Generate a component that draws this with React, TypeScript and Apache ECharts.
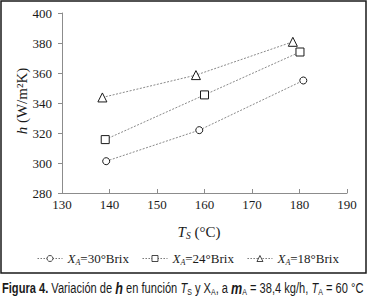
import React, { useEffect, useRef } from "react";
import * as echarts from "echarts";

const seriesNames = ["X_A=30°Brix", "X_A=24°Brix", "X_A=18°Brix"];
const legendValues = ["30°Brix", "24°Brix", "18°Brix"];
const brix30: [number, number][] = [[139.3, 301.2], [158.9, 321.9], [180.8, 355.0]];
const brix24: [number, number][] = [[139.1, 315.6], [160.0, 345.4], [180.1, 374.0]];
const brix18: [number, number][] = [[138.5, 343.7], [158.2, 358.6], [178.6, 380.8]];
const symbols = ["circle", "rect", "triangle"];
const xMin = 130, xMax = 190, xStep = 10;
const yMin = 280, yMax = 400, yStep = 20;

const SERIF = "Liberation Serif, Times New Roman, serif";
const SANS = "Liberation Sans, Arial, sans-serif";
const INK = "#1a1a1a";

const captionText =
  "{b|Figura 4.}{n| Variación de }{h|h}{n| en función }{i|T}{s|S}{n| y X}{s|A}{n|, a }{h|m}{s|A}{n| = 38,4 kg/h, }{i|T}{s|A}{n| = 60 °C}";

export default function App() {
  const ref = useRef<HTMLDivElement>(null);
  useEffect(() => {
    const chart = echarts.init(ref.current!, null, { renderer: "svg" });
    const datasets = [brix30, brix24, brix18];
    const option: any = {
      animation: false,
      backgroundColor: "#fff",
      textStyle: { fontFamily: SERIF },
      grid: { left: 62, top: 13, width: 285, height: 180 },
      xAxis: {
        type: "value", min: xMin, max: xMax, interval: xStep,
        axisLine: { lineStyle: { color: "#8c8c8c", width: 1 } },
        axisTick: { inside: true, length: 4, lineStyle: { color: "#8c8c8c" } },
        axisLabel: { color: INK, fontFamily: SERIF, fontSize: 13, margin: 5 },
        splitLine: { show: false },
      },
      yAxis: {
        type: "value", min: yMin, max: yMax, interval: yStep,
        axisLine: { show: true, lineStyle: { color: "#8c8c8c", width: 1 } },
        axisTick: { show: true, length: 4, lineStyle: { color: "#8c8c8c" } },
        axisLabel: { color: INK, fontFamily: SERIF, fontSize: 13, margin: 10 },
        splitLine: { show: false },
      },
      legend: {
        left: 32, top: 247, itemWidth: 25, itemHeight: 7.5, itemGap: 13,
        data: seriesNames,
        itemStyle: { color: "#ffffff", borderColor: INK, borderWidth: 0.8 },
        lineStyle: { color: "#777", width: 1, type: [1.5, 1.5] },
        formatter: (name: string) => {
          const i = seriesNames.indexOf(name);
          return `{i|X}{s|A}{n|=${legendValues[i]}}`;
        },
        textStyle: {
          color: INK, fontFamily: SERIF, fontSize: 13,
          rich: {
            i: { fontStyle: "italic", fontFamily: SERIF, fontSize: 13, color: INK },
            s: { fontStyle: "italic", fontFamily: SERIF, fontSize: 8, color: INK, verticalAlign: "bottom", padding: [7, 0, 0, 0] },
            n: { fontFamily: SERIF, fontSize: 13, color: INK },
          },
        },
      },
      series: datasets.map((d, i) => ({
        name: seriesNames[i],
        type: "line",
        data: d,
        symbol: symbols[i],
        symbolSize: i === 2 ? 9 : i === 1 ? 8 : 7,
        lineStyle: { color: "#8a8a8a", width: 1, type: [2, 1.5] },
        itemStyle: { color: "#ffffff", borderColor: INK, borderWidth: 1 },
        emphasis: { disabled: true },
      })),
      graphic: [
        {
          type: "rect", shape: { x: 1, y: 1, width: 365, height: 272 },
          style: { fill: "none", stroke: INK, lineWidth: 1.5 }, silent: true,
        },
        {
          type: "text", x: 22, y: 101, rotation: Math.PI / 2,
          style: {
            text: "{i|h}{n| (W/m²K)}", align: "center", verticalAlign: "middle",
            fill: INK,
            rich: {
              i: { fontStyle: "italic", fontFamily: SERIF, fontSize: 15, fill: INK },
              n: { fontFamily: SERIF, fontSize: 15, fill: INK },
            },
          },
        },
        {
          type: "text", x: 199, y: 232,
          style: {
            text: "{i|T}{s|S}{n| (°C)}", align: "center", verticalAlign: "middle",
            fill: INK,
            rich: {
              i: { fontStyle: "italic", fontFamily: SERIF, fontSize: 15, fill: INK },
              n: { fontFamily: SERIF, fontSize: 15, fill: INK },
              s: { fontStyle: "italic", fontFamily: SERIF, fontSize: 9.5, fill: INK, verticalAlign: "bottom", padding: [7, 0, 0, 0] },
            },
          },
        },
        {
          type: "text", x: 2, y: 287.5, scaleX: 0.74,
          style: {
            text: captionText, align: "left", verticalAlign: "middle", fill: INK,
            rich: {
              b: { fontWeight: "bold", fontFamily: SANS, fontSize: 15, fill: INK },
              n: { fontFamily: SANS, fontSize: 15, fill: INK },
              h: { fontWeight: "bold", fontStyle: "italic", fontFamily: SANS, fontSize: 17, fill: INK },
              i: { fontStyle: "italic", fontFamily: SANS, fontSize: 15, fill: INK },
              s: { fontFamily: SANS, fontSize: 9.5, fill: INK, verticalAlign: "bottom", padding: [8, 0, 0, 0] },
            },
          },
        },
      ],
    };
    chart.setOption(option);
    return () => chart.dispose();
  }, []);
  return (
    <div
      ref={ref}
      style={{ position: "fixed", left: 0, top: 0, width: 369, height: 303, background: "#fff" }}
    />
  );
}
